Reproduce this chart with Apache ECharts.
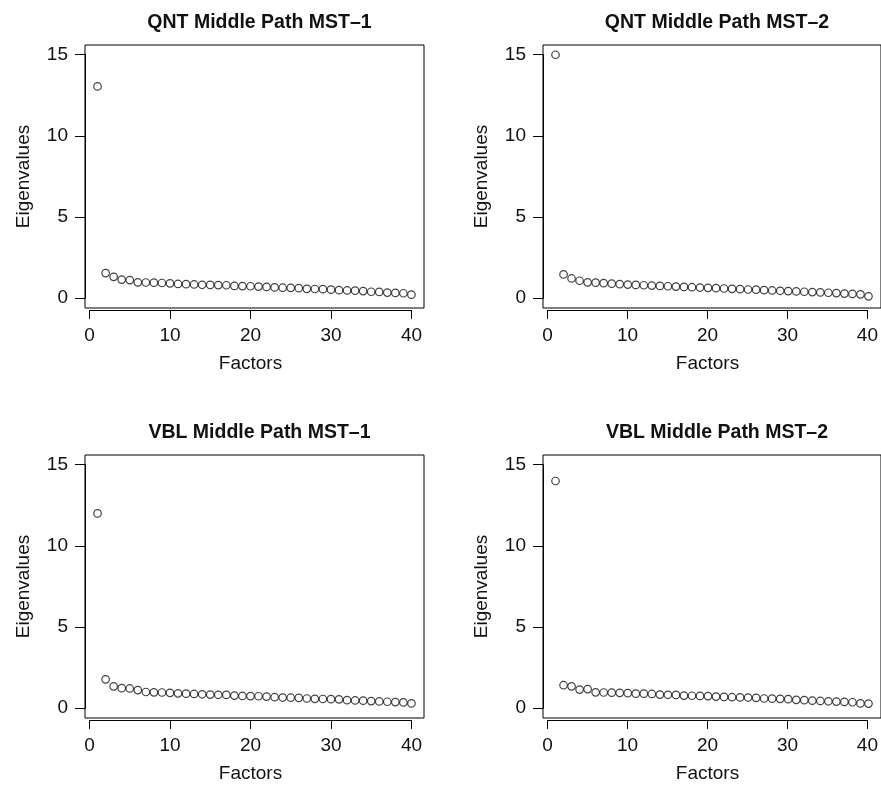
<!DOCTYPE html>
<html>
<head>
<meta charset="utf-8">
<script src="https://cdn.jsdelivr.net/npm/echarts@6/dist/echarts.min.js"></script>
<style>
html,body{margin:0;padding:0;background:#fff;}
#chart{width:881px;height:785px;}
</style>
</head>
<body>
<div id="chart"></div>
<script>
// ---- data ----
const factors = [1,2,3,4,5,6,7,8,9,10,11,12,13,14,15,16,17,18,19,20,21,22,23,24,25,26,27,28,29,30,31,32,33,34,35,36,37,38,39,40];
const titles = ["QNT Middle Path MST\u20131", "QNT Middle Path MST\u20132", "VBL Middle Path MST\u20131", "VBL Middle Path MST\u20132"];
const qntMst1 = [13.05,1.55,1.32,1.15,1.12,0.98,0.97,0.96,0.94,0.92,0.88,0.87,0.85,0.83,0.82,0.81,0.80,0.76,0.75,0.74,0.72,0.70,0.67,0.65,0.64,0.62,0.58,0.57,0.56,0.53,0.50,0.48,0.47,0.44,0.40,0.39,0.35,0.33,0.31,0.22];
const qntMst2 = [15.0,1.47,1.22,1.08,0.98,0.96,0.93,0.90,0.87,0.84,0.82,0.80,0.78,0.76,0.74,0.72,0.70,0.68,0.66,0.64,0.62,0.60,0.58,0.56,0.54,0.53,0.50,0.48,0.46,0.44,0.42,0.40,0.38,0.36,0.34,0.32,0.29,0.27,0.24,0.12];
const vblMst1 = [12.0,1.78,1.35,1.24,1.22,1.12,1.00,0.98,0.97,0.95,0.92,0.90,0.88,0.86,0.84,0.83,0.82,0.78,0.76,0.75,0.74,0.72,0.68,0.66,0.65,0.64,0.60,0.58,0.57,0.56,0.55,0.50,0.48,0.47,0.44,0.42,0.40,0.38,0.36,0.30];
const vblMst2 = [14.0,1.42,1.35,1.15,1.18,0.98,0.97,0.96,0.95,0.93,0.90,0.90,0.88,0.84,0.83,0.82,0.78,0.77,0.76,0.75,0.72,0.70,0.68,0.67,0.66,0.64,0.60,0.59,0.58,0.56,0.52,0.50,0.47,0.45,0.43,0.41,0.39,0.37,0.30,0.29];
const xTicks = [0,10,20,30,40];
const yTicks = [0,5,10,15];
const xName = "Factors";
const yName = "Eigenvalues";
const seriesData = [qntMst1, qntMst2, vblMst1, vblMst2];

// ---- layout ----
const panels = [
  {L:85, T:45, R:424, B:308},
  {L:543, T:45, R:881, B:308},
  {L:85, T:455, R:424, B:718},
  {L:543, T:455, R:881, B:718}
];
const xMin = -0.56, xMax = 41.56, yMin = -0.6, yMax = 15.6;
const txt = '#111';
const font = 'Liberation Sans, Arial, Helvetica, sans-serif';

const grid = [], xAxis = [], yAxis = [], series = [], title = [];
panels.forEach((p, i) => {
  const w = p.R - p.L, h = p.B - p.T;
  const ux = w / (xMax - xMin), uy = h / (yMax - yMin);
  // main plotting box
  grid.push({left:p.L, top:p.T, width:w, height:h, show:true, borderColor:'#000', borderWidth:1, backgroundColor:'transparent', containLabel:false});
  const gMain = grid.length - 1;
  xAxis.push({gridIndex:gMain, type:'value', min:xMin, max:xMax, show:false});
  yAxis.push({gridIndex:gMain, type:'value', min:yMin, max:yMax, show:false});
  series.push({
    type:'scatter', xAxisIndex:xAxis.length-1, yAxisIndex:yAxis.length-1,
    data: factors.map((f, k) => [f, seriesData[i][k]]),
    symbol:'circle', symbolSize:7.5,
    itemStyle:{color:'rgba(255,255,255,0)', borderColor:'#111', borderWidth:1.2},
    emphasis:{disabled:true}, silent:true, animation:false
  });
  // x axis (R style, spanning 0..40)
  const xl = p.L + (xTicks[0] - xMin) * ux;
  grid.push({left:xl, top:p.B + 1, width:(xTicks[xTicks.length-1]-xTicks[0]) * ux, height:1, show:false});
  const gX = grid.length - 1;
  xAxis.push({gridIndex:gX, type:'value', min:xTicks[0], max:xTicks[xTicks.length-1], interval:10, position:'bottom',
    axisLine:{show:true, lineStyle:{color:'#000', width:1}},
    axisTick:{show:true, length:9, inside:false, lineStyle:{color:'#000', width:1}},
    axisLabel:{show:true, margin:16, color:txt, fontSize:19, fontFamily:font},
    splitLine:{show:false},
    name:xName, nameLocation:'middle', nameGap:44, nameTextStyle:{color:txt, fontSize:19, fontFamily:font}
  });
  yAxis.push({gridIndex:gX, type:'value', show:false, min:0, max:1});
  // y axis (R style, spanning 0..15)
  const yt = p.T + (yMax - yTicks[yTicks.length-1]) * uy;
  grid.push({left:p.L, top:yt, width:1, height:(yTicks[yTicks.length-1]-yTicks[0]) * uy, show:false});
  const gY = grid.length - 1;
  xAxis.push({gridIndex:gY, type:'value', show:false, min:0, max:1});
  yAxis.push({gridIndex:gY, type:'value', min:yTicks[0], max:yTicks[yTicks.length-1], interval:5, position:'left',
    axisLine:{show:true, lineStyle:{color:'#000', width:1}},
    axisTick:{show:true, length:10, inside:false, lineStyle:{color:'#000', width:1}},
    axisLabel:{show:true, margin:17, color:txt, fontSize:19, fontFamily:font},
    splitLine:{show:false},
    name:yName, nameLocation:'middle', nameRotate:90, nameGap:52, nameTextStyle:{color:txt, fontSize:19, fontFamily:font}
  });
  title.push({text:titles[i], left:(p.L + p.R)/2, top:p.T - 37, textAlign:'center',
    textStyle:{color:txt, fontSize:19.5, fontWeight:'bold', fontFamily:font}});
});

const chart = echarts.init(document.getElementById('chart'), null, {renderer:'canvas'});
chart.setOption({animation:false, backgroundColor:'#fff', title, grid, xAxis, yAxis, series});
</script>
</body>
</html>
